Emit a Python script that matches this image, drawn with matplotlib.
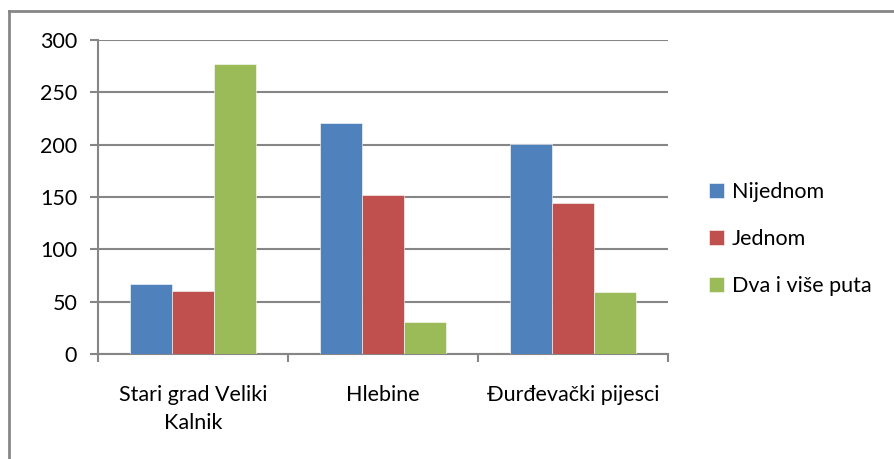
import numpy as np
import matplotlib.pyplot as plt
from matplotlib.lines import Line2D

plt.rcParams['font.family'] = ['Lato', 'DejaVu Sans']

categories = ["Stari grad Veliki\nKalnik", "Hlebine", "Đurđevački pijesci"]
series_names = ["Nijednom", "Jednom", "Dva i više puta"]
nijednom = [67, 221, 201]
jednom = [60, 152, 144]
dva_i_vise = [277, 31, 59]
y_ticks = [0, 50, 100, 150, 200, 250, 300]

colors = ["#4F81BD", "#C0504D", "#9BBB59"]
grid_col = "#868686"
fsize = 15.5

fig = plt.figure(figsize=(8.95, 4.59), dpi=100)
ax = fig.add_axes([0.1095, 0.2288, 0.6369, 0.6841])

x = np.arange(len(categories))
w = 0.221
for i, (vals, name) in enumerate(zip([nijednom, jednom, dva_i_vise], series_names)):
    ax.bar(x + (i - 1) * w, vals, width=w, color=colors[i], label=name,
           edgecolor="white", linewidth=0.4, zorder=3)

ax.set_xlim(-0.5, len(categories) - 0.5)
ax.set_ylim(0, 300)
ax.set_yticks(y_ticks)
ax.set_yticklabels([str(t) for t in y_ticks], fontsize=fsize)
ax.yaxis.grid(True, color=grid_col, linewidth=1.5, zorder=0)

# category labels centered, ticks at boundaries
ax.set_xticks(x)
ax.set_xticklabels(categories, fontsize=fsize, linespacing=1.55)
ax.tick_params(axis='x', length=0, pad=22)
ax.set_xticks(np.arange(len(categories) + 1) - 0.5, minor=True)
ax.tick_params(axis='x', which='minor', length=6, color=grid_col, width=1.5)
ax.tick_params(axis='y', length=6, color=grid_col, width=1.5, pad=9)

for s in ["top", "right"]:
    ax.spines[s].set_visible(False)
for s in ["left", "bottom"]:
    ax.spines[s].set_color(grid_col)
    ax.spines[s].set_linewidth(1.5)

leg = fig.legend(loc="center left", bbox_to_anchor=(0.783, 0.479), frameon=False,
                 fontsize=fsize, handlelength=0.7, handleheight=0.7,
                 handletextpad=0.35, labelspacing=1.25, borderaxespad=0)

# outer chart border: only left and top edges are visible
fig.add_artist(Line2D([0.0106, 0.0106], [0.0, 0.975], transform=fig.transFigure,
                      color=grid_col, linewidth=2))
fig.add_artist(Line2D([0.0106, 1.0], [0.975, 0.975], transform=fig.transFigure,
                      color=grid_col, linewidth=2))

fig.savefig("out.png", dpi=100)
